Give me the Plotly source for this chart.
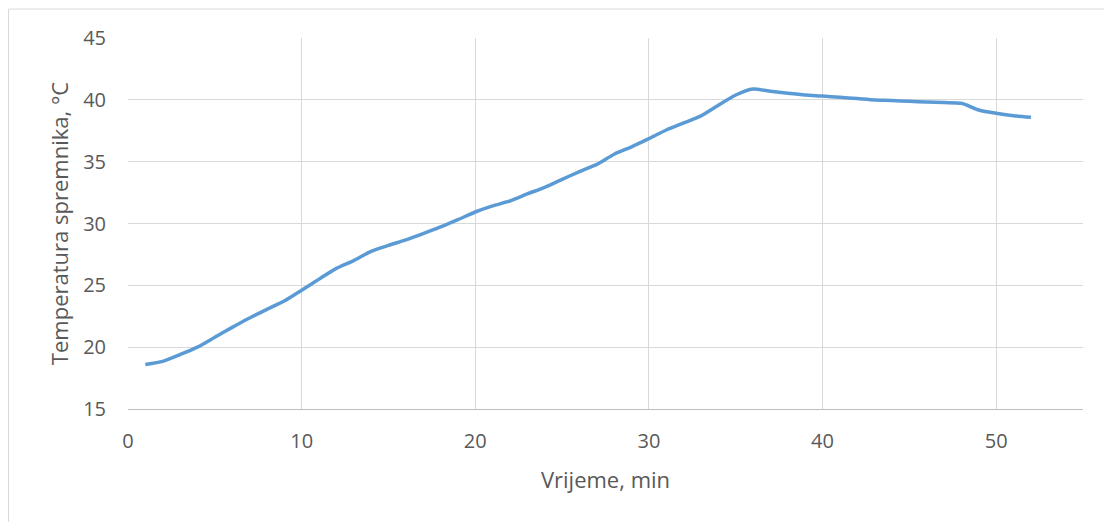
import plotly.graph_objects as go

minutes = list(range(1, 53))
temperature = [
    18.6, 18.85, 19.4, 20.0, 20.8, 21.6, 22.36, 23.06, 23.73, 24.6,
    25.5, 26.37, 27.0, 27.75, 28.23, 28.67, 29.18, 29.72, 30.31, 30.93,
    31.42, 31.82, 32.39, 32.93, 33.57, 34.19, 34.78, 35.6, 36.2, 36.86,
    37.56, 38.13, 38.7, 39.56, 40.39, 40.87, 40.69, 40.53, 40.39, 40.3,
    40.2, 40.1, 39.99, 39.95, 39.88, 39.83, 39.78, 39.72, 39.18, 38.91,
    38.72, 38.59,
]
x_title = "Vrijeme, min"
y_title = "Temperatura spremnika, °C"

FONT = "Open Sans, sans-serif"
TXT = "#595959"
GRID = "#D9D9D9"

fig = go.Figure()
fig.add_trace(go.Scatter(
    x=minutes, y=temperature, mode="lines",
    line=dict(color="#5B9BD5", width=3.5, shape="spline", smoothing=0.6),
    showlegend=False, hoverinfo="x+y",
))

# page body has an 8px margin, so the figure is sized/offset to compensate
fig.update_layout(
    width=1104, height=514,
    margin=dict(l=120, r=29, t=30, b=113),
    paper_bgcolor="white", plot_bgcolor="white",
    font=dict(family=FONT, color=TXT, size=20),
    xaxis=dict(
        range=[0, 55], tick0=0, dtick=10, showgrid=True, gridcolor=GRID, gridwidth=1.2,
        zeroline=False, showline=True, linecolor="#BFBFBF", linewidth=1.2,
        ticks="", ticklabelstandoff=14,
        tickfont=dict(size=20, color=TXT, family=FONT),
        title=dict(text=x_title, font=dict(size=22, color=TXT, family=FONT), standoff=19),
    ),
    yaxis=dict(
        range=[15, 45], tick0=15, dtick=5, showgrid=True, gridcolor=GRID, gridwidth=1.2,
        zeroline=False, showline=False, ticks="", ticklabelstandoff=21,
        tickfont=dict(size=20, color=TXT, family=FONT),
        title=dict(text=y_title, font=dict(size=22, color=TXT, family=FONT), standoff=8),
    ),
)

# chart frame (light border, partially outside the visible window)
fig.add_shape(type="line", xref="paper", yref="paper",
              x0=-0.1251, x1=1.1, y0=1.078, y1=1.078,
              line=dict(color=GRID, width=1))
fig.add_shape(type="line", xref="paper", yref="paper",
              x0=-0.1251, x1=-0.1251, y0=-0.4, y1=1.078,
              line=dict(color=GRID, width=1))

fig.write_html("out.html")
